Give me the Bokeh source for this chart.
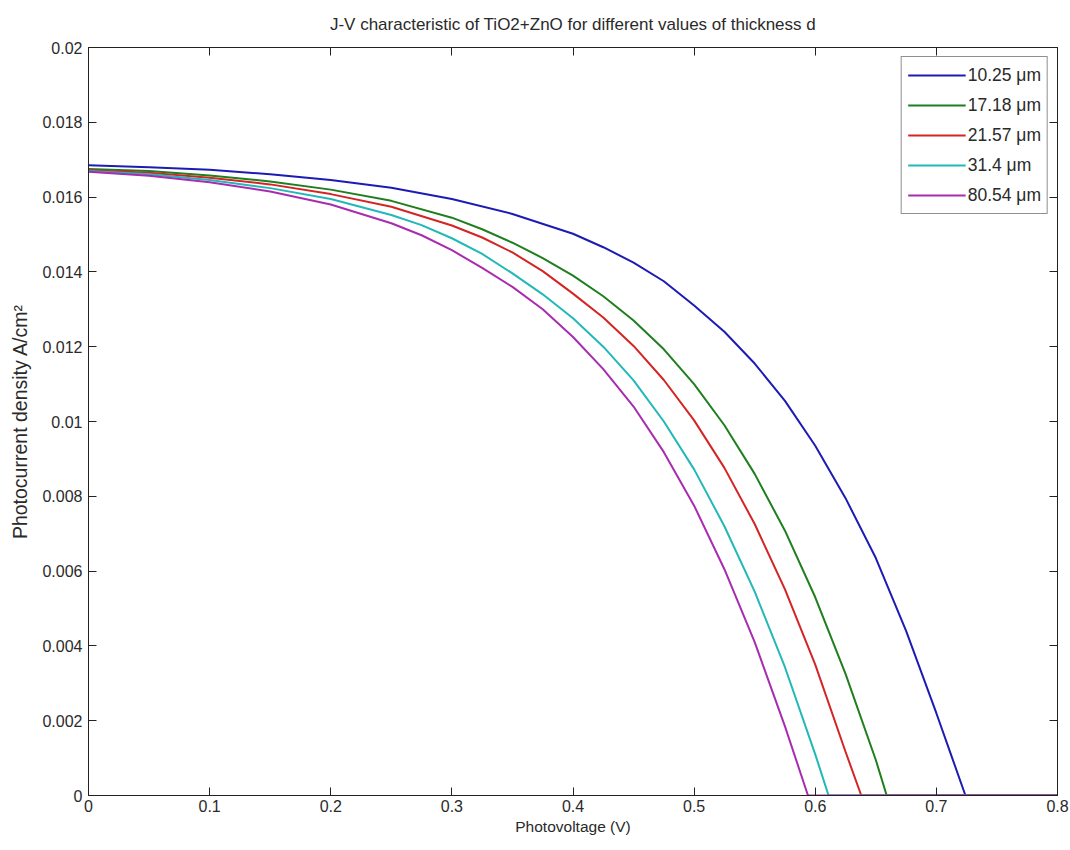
from bokeh.plotting import figure
from bokeh.models import (LinearAxis, FixedTicker, CustomJSTickFormatter, Legend,
                          LegendItem, Range1d)
from bokeh.embed import file_html
from bokeh.resources import INLINE

# ---- data ----
title_text = "J-V characteristic of TiO2+ZnO for different values of thickness d"
labels = ["10.25 μm", "17.18 μm", "21.57 μm", "31.4 μm", "80.54 μm"]
colors = ["#1c1cb4", "#1f7f1f", "#d42424", "#22b8b8", "#a82cb0"]

v_1025 = [0.0, 0.05, 0.1, 0.15, 0.2, 0.25, 0.3, 0.35, 0.4, 0.425, 0.45, 0.475, 0.5,
          0.525, 0.55, 0.575, 0.6, 0.625, 0.65, 0.675, 0.7, 0.712, 0.724, 0.8]
j_1025 = [0.01685, 0.01680, 0.01673, 0.01661, 0.01646, 0.01625, 0.01595, 0.01555,
          0.01502, 0.01466, 0.01425, 0.01375, 0.01310, 0.01240, 0.01155, 0.01055,
          0.00935, 0.00795, 0.00635, 0.00440, 0.00220, 0.00110, 0.0, 0.0]

v_1718 = [0.0, 0.05, 0.1, 0.15, 0.2, 0.25, 0.3, 0.325, 0.35, 0.375, 0.4, 0.425, 0.45,
          0.475, 0.5, 0.525, 0.55, 0.575, 0.6, 0.625, 0.65, 0.659, 0.8]
j_1718 = [0.01675, 0.01670, 0.01658, 0.01642, 0.01620, 0.01590, 0.01545, 0.01514,
          0.01478, 0.01437, 0.01390, 0.01335, 0.01270, 0.01193, 0.01100, 0.00990,
          0.00860, 0.00708, 0.00530, 0.00325, 0.00095, 0.0, 0.0]

v_2157 = [0.0, 0.05, 0.1, 0.15, 0.2, 0.25, 0.3, 0.325, 0.35, 0.375, 0.4, 0.425, 0.45,
          0.475, 0.5, 0.525, 0.55, 0.575, 0.6, 0.625, 0.638, 0.8]
j_2157 = [0.01672, 0.01665, 0.01652, 0.01634, 0.01608, 0.01574, 0.01524, 0.01492,
          0.01452, 0.01402, 0.01342, 0.01278, 0.01202, 0.01111, 0.01003, 0.00876,
          0.00726, 0.00551, 0.00350, 0.00117, 0.0, 0.0]

v_314 = [0.0, 0.05, 0.1, 0.15, 0.2, 0.25, 0.275, 0.3, 0.325, 0.35, 0.375, 0.4, 0.425,
         0.45, 0.475, 0.5, 0.525, 0.55, 0.575, 0.6, 0.611, 0.8]
j_314 = [0.01670, 0.01661, 0.01646, 0.01624, 0.01595, 0.01552, 0.01525, 0.01490,
         0.01448, 0.01396, 0.01340, 0.01276, 0.01200, 0.01110, 0.01000, 0.00872,
         0.00720, 0.00545, 0.00343, 0.00110, 0.0, 0.0]

v_8054 = [0.0, 0.05, 0.1, 0.15, 0.2, 0.25, 0.275, 0.3, 0.325, 0.35, 0.375, 0.4, 0.425,
          0.45, 0.475, 0.5, 0.525, 0.55, 0.575, 0.594, 0.8]
j_8054 = [0.01668, 0.01657, 0.01640, 0.01615, 0.01580, 0.01530, 0.01498, 0.01458,
          0.01411, 0.01360, 0.01300, 0.01226, 0.01140, 0.01040, 0.00918, 0.00775,
          0.00605, 0.00410, 0.00185, 0.0, 0.0]

series_v = [v_1025, v_1718, v_2157, v_314, v_8054]
series_j = [j_1025, j_1718, j_2157, j_314, j_8054]

x_ticks = [0.0, 0.1, 0.2, 0.3, 0.4, 0.5, 0.6, 0.7, 0.8]
y_ticks = [0.0, 0.002, 0.004, 0.006, 0.008, 0.01, 0.012, 0.014, 0.016, 0.018, 0.02]

FONT = "Liberation Sans"
TXT = "#2a2a2a"

p = figure(width=1070, height=850, output_backend="svg", toolbar_location=None,
           x_range=Range1d(0, 0.8), y_range=Range1d(0, 0.02),
           min_border_left=88, min_border_right=13, min_border_top=47,
           min_border_bottom=55, background_fill_color="white",
           border_fill_color="white")
p.grid.visible = False
p.outline_line_color = "#222222"
p.outline_line_width = 1

p.title.text = title_text
p.title.align = "center"
p.title.vertical_align = "top"
p.title.text_font = FONT
p.title.text_font_size = "17px"
p.title.text_font_style = "normal"
p.title.text_color = TXT
p.title.standoff = 24

fmt_x = CustomJSTickFormatter(code="return tick.toFixed(1).replace(/0+$/,'').replace(/\\.$/,'');")
fmt_y = CustomJSTickFormatter(code="return tick.toFixed(3).replace(/0+$/,'').replace(/\\.$/,'');")
blank = CustomJSTickFormatter(code="return '';")

def style(ax, ticks, fmt):
    ax.ticker = FixedTicker(ticks=ticks)
    ax.formatter = fmt
    ax.minor_tick_line_color = None
    ax.major_tick_out = 0
    ax.major_tick_in = 8
    ax.major_tick_line_color = "#222222"
    ax.axis_line_color = "#222222"
    ax.major_label_text_font = FONT
    ax.major_label_text_font_size = "16px"
    ax.major_label_text_color = TXT
    ax.axis_label_text_font = FONT
    ax.axis_label_text_font_size = "15.5px"
    ax.axis_label_text_font_style = "normal"
    ax.axis_label_text_color = TXT

style(p.xaxis[0], x_ticks, fmt_x)
style(p.yaxis[0], y_ticks, fmt_y)
p.xaxis[0].axis_label = "Photovoltage (V)"
p.yaxis[0].axis_label = "Photocurrent density A/cm²"
p.yaxis[0].axis_label_text_font_size = "19.5px"
p.xaxis[0].major_label_standoff = 4
p.xaxis[0].axis_label_standoff = 3
p.yaxis[0].major_label_standoff = 6
p.yaxis[0].axis_label_standoff = 8

ax_r = LinearAxis()
style(ax_r, y_ticks, blank)
ax_r.major_label_standoff = 0
p.add_layout(ax_r, "right")
ax_t = LinearAxis()
style(ax_t, x_ticks, blank)
ax_t.major_label_standoff = 0
p.add_layout(ax_t, "above")

items = []
for lab, col, vv, jj in zip(labels, colors, series_v, series_j):
    r = p.line(vv, jj, line_color=col, line_width=2)
    items.append(LegendItem(label=lab, renderers=[r]))

leg = Legend(items=items, location="top_right")
leg.margin = 9
leg.padding = 6
leg.spacing = 6
leg.glyph_width = 58
leg.glyph_height = 24
leg.label_standoff = 2
leg.label_text_font = FONT
leg.label_text_font_size = "17.5px"
leg.label_text_color = TXT
leg.border_line_color = "#222222"
leg.border_line_width = 1
leg.background_fill_color = "white"
leg.background_fill_alpha = 1
p.add_layout(leg, "center")

open("out.html", "w").write(file_html(p, INLINE))
